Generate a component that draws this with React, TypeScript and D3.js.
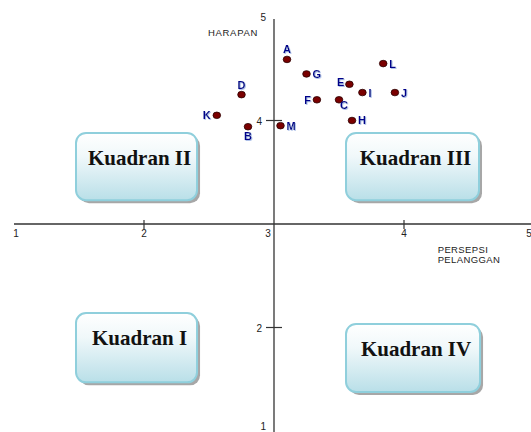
import * as d3 from "d3";

// atribut (nilai persepsi pelanggan vs harapan)
const names = ["A", "B", "C", "D", "E", "F", "G", "H", "I", "J", "K", "L", "M"];
const persepsi = [3.1, 2.8, 3.5, 2.75, 3.58, 3.33, 3.25, 3.6, 3.68, 3.93, 2.56, 3.84, 3.05];
const harapan = [4.59, 3.94, 4.2, 4.25, 4.35, 4.2, 4.45, 4.0, 4.27, 4.27, 4.05, 4.55, 3.95];

const xTickLabels = [1, 2, 3, 4, 5];
const yTickLabels = [1, 2, 4, 5];
const tickMarks = [2, 4];

// kotak kuadran dalam satuan data: [x0, x1, yTop, yBottom]
const quadNames = ["Kuadran II", "Kuadran III", "Kuadran I", "Kuadran IV"];
const quadBoxes = [
  [1.477, 2.408, 3.88, 3.23],
  [3.554, 4.577, 3.88, 3.23],
  [1.477, 2.408, 2.14, 1.47],
  [3.554, 4.585, 2.034, 1.377],
];

// posisi label titik
const labelSide: Record<string, string> = {
  A: "top", B: "bottom", C: "belowRight", D: "top", E: "leftUp", F: "left",
  G: "right", H: "right", I: "right", J: "right", K: "left", L: "right", M: "right",
};

const W = 531;
const H = 432;

export default function App() {
  const x = d3.scaleLinear().domain([1, 5]).range([14, 534]);
  const y = d3.scaleLinear().domain([1, 5]).range([431, 17]);
  const x0 = x(3);
  const y0 = y(3);

  const labelPos = (side: string) => {
    switch (side) {
      case "top": return { dx: 0, dy: -10, anchor: "middle" };
      case "bottom": return { dx: 0, dy: 9, anchor: "middle" };
      case "belowRight": return { dx: 1, dy: 5, anchor: "start" };
      case "leftUp": return { dx: -5, dy: -2, anchor: "end" };
      case "left": return { dx: -6, dy: 0, anchor: "end" };
      default: return { dx: 6, dy: 0, anchor: "start" };
    }
  };

  const sans = "Arial, 'Liberation Sans', sans-serif";

  return (
    <svg width={W} height={H} style={{ position: "absolute", left: 0, top: 0 }}>
      <defs>
        <linearGradient id="boxGrad" x1="0" y1="0" x2="0" y2="1">
          <stop offset="0%" stopColor="#ffffff" />
          <stop offset="35%" stopColor="#f0f8fa" />
          <stop offset="100%" stopColor="#b9dfe8" />
        </linearGradient>
        <filter id="lblShadow" x="-20%" y="-20%" width="140%" height="140%">
          <feDropShadow dx="0.8" dy="0.8" stdDeviation="0.3" floodColor="#8fa8e0" floodOpacity="0.9" />
        </filter>
      </defs>
      <rect width={W} height={H} fill="#fff" />

      {/* kotak kuadran */}
      {quadBoxes.map((b, i) => {
        const bx = x(b[0]);
        const by = y(b[2]);
        const bw = x(b[1]) - bx;
        const bh = y(b[3]) - by;
        return (
          <g key={quadNames[i]}>
            <rect x={bx + 3} y={by + 3} width={bw} height={bh} rx={10} fill="#8a8a8a" opacity={0.75} />
            <rect x={bx} y={by} width={bw} height={bh} rx={10} fill="url(#boxGrad)" stroke="#8fcfdc" strokeWidth={2} />
            <text
              x={bx + bw / 2 + 3}
              y={by + 32}
              textAnchor="middle"
              fontFamily="'Liberation Serif', 'Times New Roman', serif"
              fontWeight="bold"
              fontSize={21}
              fill="#111"
            >
              {quadNames[i]}
            </text>
          </g>
        );
      })}

      {/* sumbu */}
      <line x1={x(1)} x2={W} y1={y0} y2={y0} stroke="#333" strokeWidth={1.3} />
      <line x1={x0} x2={x0} y1={y(5) + 2} y2={H} stroke="#333" strokeWidth={1.3} />
      {tickMarks.map((t) => (
        <g key={"t" + t}>
          <line x1={x(t)} x2={x(t)} y1={y0 - 4} y2={y0 + 5} stroke="#333" strokeWidth={1.2} />
          <line x1={x0 - 8} x2={x0 + 8} y1={y(t)} y2={y(t)} stroke="#333" strokeWidth={1.2} />
        </g>
      ))}
      {xTickLabels.map((t) => {
        const off = t === 3 ? -6 : t === 1 ? 2 : t === 5 ? -5 : 0;
        return (
          <text key={"xl" + t} x={x(t) + off} y={y0 + 13} textAnchor="middle" fontFamily={sans} fontSize={10} fill="#222">
            {t}
          </text>
        );
      })}
      {yTickLabels.map((t) => (
        <text
          key={"yl" + t}
          x={x0 - (tickMarks.includes(t) ? 12 : 8)}
          y={Math.min(y(t), 426) + 4}
          textAnchor="end"
          fontFamily={sans}
          fontSize={10}
          fill="#222"
        >
          {t}
        </text>
      ))}

      {/* judul sumbu */}
      <text x={233} y={36} textAnchor="middle" fontFamily={sans} fontSize={9.5} letterSpacing={0.7} fill="#222">
        HARAPAN
      </text>
      <text x={463} y={253} textAnchor="middle" fontFamily={sans} fontSize={9.5} letterSpacing={0.4} fill="#222">
        PERSEPSI
      </text>
      <text x={469} y={263} textAnchor="middle" fontFamily={sans} fontSize={9.5} letterSpacing={0.4} fill="#222">
        PELANGGAN
      </text>

      {/* titik atribut */}
      {names.map((n, i) => {
        const cx = x(persepsi[i]);
        const cy = y(harapan[i]);
        const p = labelPos(labelSide[n]);
        return (
          <g key={n}>
            <ellipse cx={cx} cy={cy} rx={3.8} ry={3.3} fill="#7a0000" stroke="#2a0000" strokeWidth={0.8} />
            <text
              x={cx + p.dx}
              y={cy + p.dy}
              dy="0.36em"
              textAnchor={p.anchor}
              fontFamily={sans}
              fontWeight="bold"
              fontSize={11}
              fill="#00008a"
              filter="url(#lblShadow)"
            >
              {n}
            </text>
          </g>
        );
      })}
    </svg>
  );
}
